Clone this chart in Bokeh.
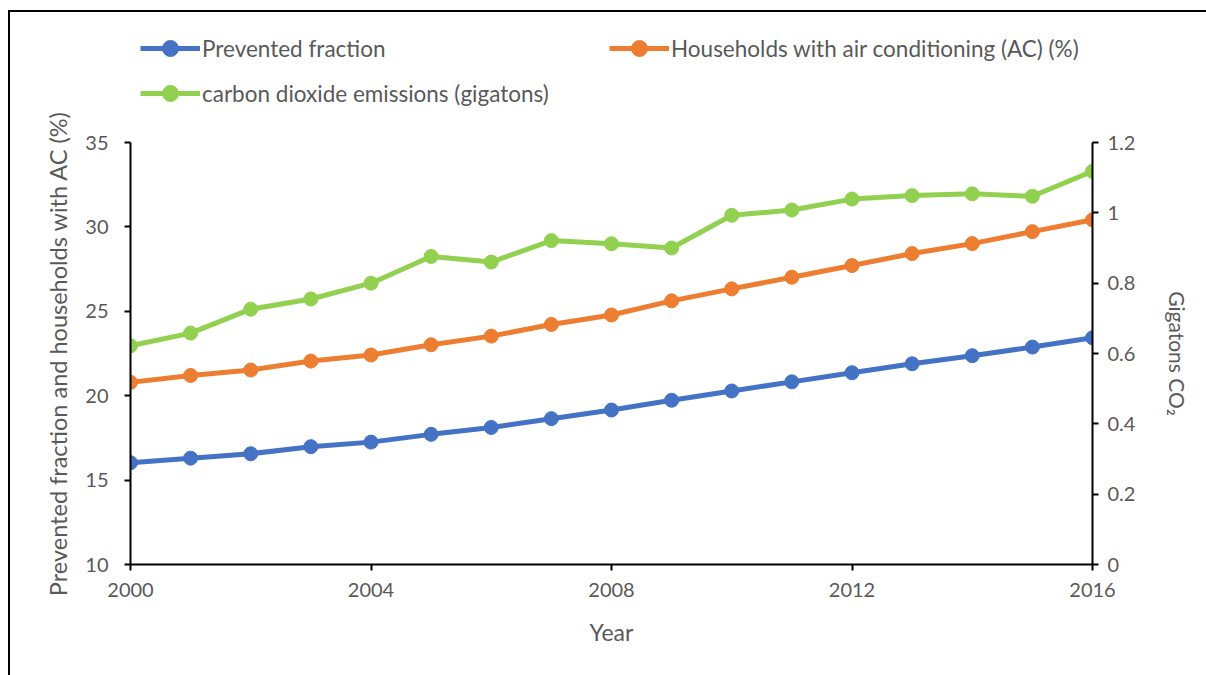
from bokeh.plotting import figure
from bokeh.layouts import column
from bokeh.models import (LinearAxis, Range1d, FixedTicker, CustomJSTickFormatter,
                          Legend, LegendItem)
from bokeh.embed import file_html
from bokeh.resources import INLINE

years = list(range(2000, 2017))
prevented = [16.03, 16.30, 16.56, 16.98, 17.25, 17.71, 18.12, 18.64, 19.15, 19.73,
             20.28, 20.82, 21.36, 21.89, 22.37, 22.88, 23.43]
households_ac = [20.79, 21.20, 21.52, 22.05, 22.41, 23.02, 23.53, 24.22, 24.78, 25.62,
                 26.33, 27.02, 27.71, 28.42, 29.01, 29.72, 30.42]
co2_gt = [0.622, 0.658, 0.726, 0.755, 0.800, 0.876, 0.860, 0.921, 0.912, 0.900,
          0.993, 1.008, 1.039, 1.049, 1.054, 1.047, 1.118]

series_labels = ["Prevented fraction",
                 "Households with air conditioning (AC) (%)",
                 "carbon dioxide emissions (gigatons)"]

x_ticks = [2000, 2004, 2008, 2012, 2016]
left_ticks = [10, 15, 20, 25, 30, 35]
right_ticks = [0, 0.2, 0.4, 0.6, 0.8, 1.0, 1.2]

FONT = "Lato"
GREY = "#595959"
BLUE = "#4472C4"
ORANGE = "#ED7D31"
GREEN = "#92D050"
colors = [BLUE, ORANGE, GREEN]
series = [prevented, households_ac, co2_gt]

# ---------- legend strip (above the chart) ----------
top = figure(width=1196, height=95, output_backend="svg", toolbar_location=None,
             x_range=Range1d(0, 1), y_range=Range1d(0, 1),
             x_axis_type=None, y_axis_type=None,
             min_border_left=120, min_border_right=114, min_border_top=0, min_border_bottom=0)
top.outline_line_color = None
top.grid.visible = False
top.border_fill_color = "white"
top.background_fill_color = "white"

items = []
for lab, col, vals in zip(series_labels, colors, series):
    # same series drawn outside this strip's view; only their legend glyphs show
    rl = top.line(years, vals, line_color=col, line_width=5)
    rs = top.scatter(years, vals, size=14, fill_color=col, line_color=col)
    items.append(LegendItem(label=lab, renderers=[rl, rs]))

legend = Legend(items=items, orientation="horizontal", ncols=2)
legend.location = (10, -6)
legend.border_line_color = None
legend.background_fill_alpha = 0
legend.glyph_width = 60
legend.glyph_height = 40
legend.label_standoff = 2
legend.label_width = 402
legend.spacing = 5
legend.padding = 10
legend.margin = 0
legend.label_text_font = FONT
legend.label_text_font_size = "22.5px"
legend.label_text_color = GREY
top.add_layout(legend, "center")

# ---------- main chart ----------
p = figure(width=1196, height=568, output_backend="svg", toolbar_location=None,
           x_range=Range1d(2000, 2016), y_range=Range1d(10, 35),
           min_border_left=120, min_border_right=114, min_border_top=35,
           min_border_bottom=111)
p.extra_y_ranges = {"co2": Range1d(0, 1.2)}
p.outline_line_color = None
p.grid.visible = False
p.background_fill_color = "white"
p.border_fill_color = "white"


def style_axis(ax, standoff_label, standoff_title, title_size):
    ax.axis_line_color = "black"
    ax.axis_line_width = 2
    ax.major_tick_line_color = "black"
    ax.major_tick_line_width = 2
    ax.major_tick_out = 6
    ax.major_tick_in = 0
    ax.minor_tick_line_color = None
    ax.major_label_text_font = FONT
    ax.major_label_text_font_size = "20px"
    ax.major_label_text_color = GREY
    ax.major_label_standoff = standoff_label
    ax.axis_label_text_font = FONT
    ax.axis_label_text_font_size = title_size
    ax.axis_label_text_color = GREY
    ax.axis_label_text_font_style = "normal"
    ax.axis_label_standoff = standoff_title


xa = p.xaxis[0]
xa.ticker = FixedTicker(ticks=x_ticks)
xa.axis_label = "Year"
style_axis(xa, 12, 18, "23px")

ya = p.yaxis[0]
ya.ticker = FixedTicker(ticks=left_ticks)
ya.axis_label = "Prevented fraction and households with AC (%)"
style_axis(ya, 16, 10, "23.5px")

ra = LinearAxis(y_range_name="co2", ticker=FixedTicker(ticks=right_ticks),
                formatter=CustomJSTickFormatter(code="return (Math.round(tick*10)/10).toString();"),
                axis_label="Gigatons CO\u2082")
style_axis(ra, 9, 27, "21px")
p.add_layout(ra, "right")

p.line(years, prevented, line_color=BLUE, line_width=5)
p.scatter(years, prevented, size=14, fill_color=BLUE, line_color=BLUE)
p.line(years, households_ac, line_color=ORANGE, line_width=5)
p.scatter(years, households_ac, size=14, fill_color=ORANGE, line_color=ORANGE)
p.line(years, co2_gt, line_color=GREEN, line_width=5, y_range_name="co2")
p.scatter(years, co2_gt, size=14, fill_color=GREEN, line_color=GREEN, y_range_name="co2")

layout = column(top, p, spacing=0)
layout.styles = {"margin-left": "8px", "margin-top": "10px",
                 "border-left": "2px solid black", "border-top": "2px solid black",
                 "background-color": "white"}

open("out.html", "w").write(file_html(layout, INLINE))
